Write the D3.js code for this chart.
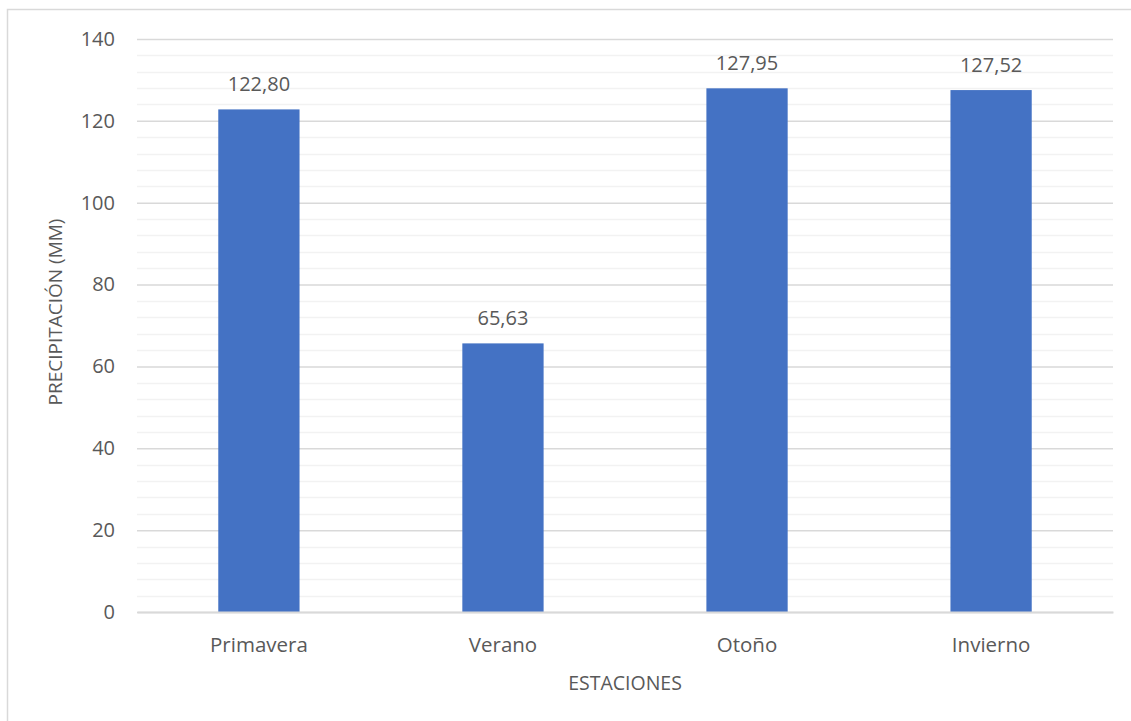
<!DOCTYPE html>
<html>
<head>
<meta charset="utf-8">
<script src="https://cdn.jsdelivr.net/npm/d3@7"></script>
<style>
  html, body { margin: 0; padding: 0; background: #fff; }
  svg { display: block; }
  text { font-family: "Open Sans", "Segoe UI", sans-serif; fill: #595959; }
</style>
</head>
<body>
<svg id="chart" width="1131" height="721"></svg>
<script>
// Seasonal precipitation (mm)
const categories = ["Primavera", "Verano", "Otoño", "Invierno"];
const values = [122.80, 65.63, 127.95, 127.52];
const yTicks = [0, 20, 40, 60, 80, 100, 120, 140];
const yMinorTicks = d3.range(0, 141, 4);

const W = 1131, H = 721;
const plot = { left: 137, right: 1113, top: 39, bottom: 612 };
const FS = 19.5;

const svg = d3.select("#chart");

// Chart frame
svg.append("rect")
  .attr("x", 7.5).attr("y", 9.5)
  .attr("width", W + 10).attr("height", H + 10)
  .attr("fill", "#fff").attr("stroke", "#d9d9d9").attr("stroke-width", 1.5);

const x = d3.scaleBand()
  .domain(categories)
  .range([plot.left, plot.right])
  .paddingInner(0.667)
  .paddingOuter(0.333);

const y = d3.scaleLinear()
  .domain([0, 140])
  .range([plot.bottom, plot.top]);

// Minor gridlines
svg.append("g")
  .selectAll("line")
  .data(yMinorTicks.filter(v => v % 20 !== 0))
  .join("line")
  .attr("x1", plot.left).attr("x2", plot.right)
  .attr("y1", d => Math.round(y(d)) + 0.5).attr("y2", d => Math.round(y(d)) + 0.5)
  .attr("stroke", "#f2f2f2").attr("stroke-width", 1.5);

// Major gridlines and y tick labels
const yAxis = d3.axisLeft(y)
  .tickValues(yTicks)
  .tickSize(-(plot.right - plot.left))
  .tickPadding(22)
  .tickFormat(d3.format("d"));

const gy = svg.append("g")
  .attr("transform", `translate(${plot.left},0)`)
  .call(yAxis);
gy.select(".domain").remove();
gy.selectAll(".tick line")
  .attr("stroke", "#d9d9d9").attr("stroke-width", 1.5);
gy.selectAll(".tick text")
  .attr("font-size", FS + 0.5)
  .attr("fill", "#595959")
  .attr("font-family", "\"Open Sans\", sans-serif");

// Bars
svg.append("g")
  .selectAll("rect")
  .data(values)
  .join("rect")
  .attr("x", (d, i) => x(categories[i]))
  .attr("width", x.bandwidth())
  .attr("y", d => y(d))
  .attr("height", d => y(0) - y(d))
  .attr("fill", "#4472c4");

// Value labels
const fmt = v => v.toFixed(2).replace(".", ",");
svg.append("g")
  .selectAll("text")
  .data(values)
  .join("text")
  .attr("x", (d, i) => x(categories[i]) + x.bandwidth() / 2)
  .attr("y", d => y(d) - 18)
  .attr("text-anchor", "middle")
  .attr("font-size", FS + 0.5)
  .attr("fill", "#404040")
  .text(fmt);

// X axis baseline and category labels
const xAxis = d3.axisBottom(x).tickSize(0).tickPadding(25);
const gx = svg.append("g")
  .attr("transform", `translate(0,${plot.bottom})`)
  .call(xAxis);
gx.select(".domain")
  .attr("stroke", "#d9d9d9").attr("stroke-width", 2);
gx.selectAll(".tick text")
  .attr("font-size", FS + 1)
  .attr("fill", "#595959")
  .attr("font-family", "\"Open Sans\", sans-serif");

// Axis titles
svg.append("text")
  .attr("x", (plot.left + plot.right) / 2)
  .attr("y", 690)
  .attr("text-anchor", "middle")
  .attr("font-size", FS)
  .text("ESTACIONES");

svg.append("text")
  .attr("transform", "translate(62,312) rotate(-90)")
  .attr("text-anchor", "middle")
  .attr("font-size", FS - 0.5)
  .text("PRECIPITACIÓN (MM)");
</script>
</body>
</html>
